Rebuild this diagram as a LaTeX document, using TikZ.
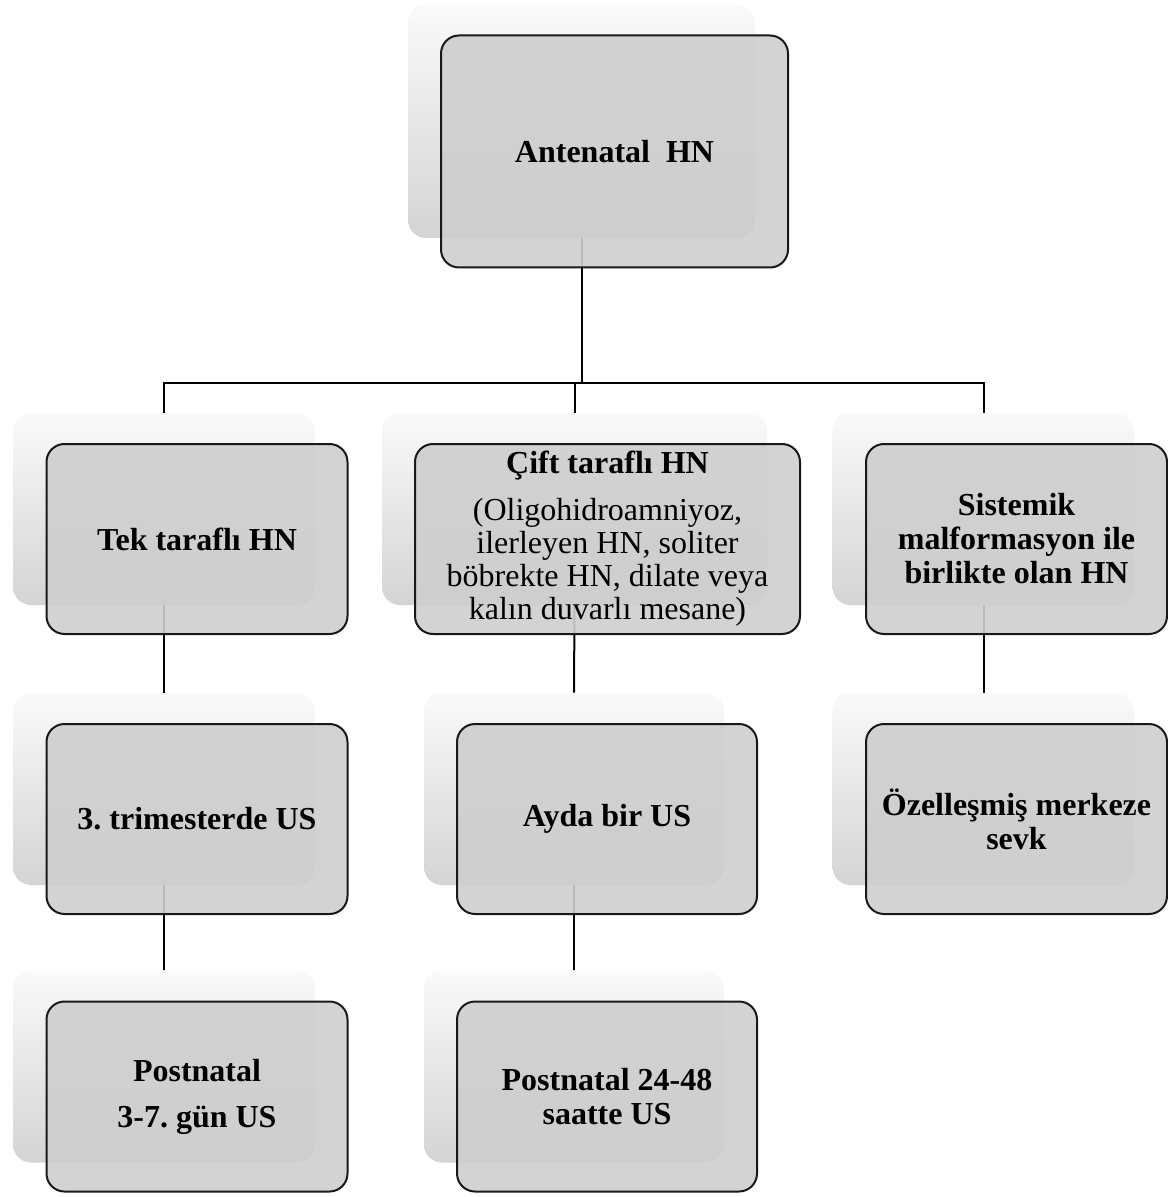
\documentclass[tikz,border=0pt]{standalone}
\usepackage{fontspec}
\setmainfont{Liberation Serif}[BoldFont={Liberation Serif Bold}]
\usetikzlibrary{positioning}
\definecolor{boxline}{RGB}{25,25,25}
\definecolor{boxfill}{RGB}{206,206,206}
\definecolor{backtop}{RGB}{250,250,250}
\definecolor{backbot}{RGB}{212,212,212}
\frenchspacing
\begin{document}
\begin{tikzpicture}[
  x=0.5pt, y=-0.5pt,
  backbox/.style={rounded corners=9pt, top color=backtop, bottom color=backbot,
    draw=none, inner sep=0pt, minimum height=96pt, minimum width=151pt},
  frontbox/.style={rounded corners=9pt, draw=boxline, line width=1pt,
    fill=boxfill, fill opacity=0.9, text opacity=1, inner sep=2pt,
    minimum height=95pt, minimum width=150.5pt, align=center,
    font=\fontsize{16}{17}\selectfont\bfseries},
  plaintext/.style={font=\fontsize{16}{16.5}\selectfont},
  link/.style={draw=black, line width=1pt},
]

  \path[use as bounding box] (0,0) rectangle (1167,1197);

  % --- back boxes ---
  \node[backbox, minimum width=173.5pt, minimum height=116.5pt] (antb) at (581.5,121.5) {};
  \node[backbox] (tekb) at (164,509) {};
  \node[backbox, minimum width=192.5pt] (ciftb) at (574.5,509) {};
  \node[backbox] (sisb) at (983.5,509) {};
  \node[backbox] (trib) at (164,789) {};
  \node[backbox, minimum width=150pt] (aydab) at (574,789) {};
  \node[backbox] (sevkb) at (983.5,789) {};
  \node[backbox] (post1b) at (164,1066.5) {};
  \node[backbox, minimum width=150pt] (post2b) at (574,1066.5) {};

  % --- connectors ---
  \coordinate (bus) at (0,383);
  \draw[link] (antb.south) -- (antb.south |- bus);
  \draw[link] (tekb.north) |- (sisb.north |- bus) -- (sisb.north);
  \draw[link] (ciftb.north) -- (ciftb.north |- bus);
  \draw[link] (tekb.south) -- (trib.north);
  \draw[link] (trib.south) -- (post1b.north);
  \draw[link] (ciftb.south) -- (aydab.north);
  \draw[link] (aydab.south) -- (post2b.north);
  \draw[link] (sisb.south) -- (sevkb.north);

  % --- front boxes ---
  \node[frontbox, minimum width=173.5pt, minimum height=116pt] (ant)
    at ([shift={(33,30)}]antb.center) {Antenatal~ HN};
  \node[frontbox] (tek) at ([shift={(33,30)}]tekb.center) {Tek taraflı HN};
  \node[frontbox, plaintext, minimum width=192.5pt] (cift) at ([shift={(33,30)}]ciftb.center)
    {{\bfseries\fontsize{16}{17}\selectfont Çift taraflı HN}\\[7pt]
     (Oligohidroamniyoz,\\ ilerleyen HN, soliter\\ böbrekte HN, dilate veya\\
     kalın duvarlı mesane)};
  \node[frontbox] (sis) at ([shift={(33,30)}]sisb.center)
    {Sistemik\\ malformasyon ile\\ birlikte olan HN};
  \node[frontbox] (tri) at ([shift={(33,30)}]trib.center) {3. trimesterde US};
  \node[frontbox, minimum width=150pt] (ayda) at ([shift={(33,30)}]aydab.center) {Ayda bir US};
  \node[frontbox] (sevk) at ([shift={(33,30)}]sevkb.center) {Özelleşmiş merkeze\\ sevk};
  \node[frontbox] (post1) at ([shift={(33,30)}]post1b.center) {Postnatal\\[6pt] 3-7. gün US};
  \node[frontbox, minimum width=150pt] (post2) at ([shift={(33,30)}]post2b.center)
    {Postnatal 24-48\\ saatte US};

\end{tikzpicture}
\end{document}
